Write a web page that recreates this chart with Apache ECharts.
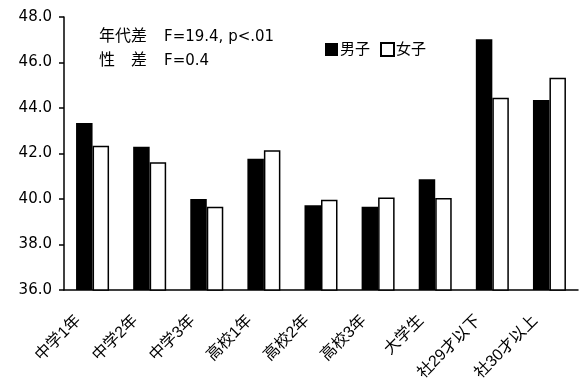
<!DOCTYPE html>
<html><head><meta charset="utf-8">
<script src="https://cdn.jsdelivr.net/npm/echarts@6/dist/echarts.min.js"></script>
<style>html,body{margin:0;padding:0;background:#fff}#c{width:584px;height:379px}</style>
</head><body><div id="c"></div>
<script>
const categories = ['中学1年','中学2年','中学3年','高校1年','高校2年','高校3年','大学生','社29才以下','社30才以上'];
const maleValues = [43.34, 42.30, 40.00, 41.77, 39.72, 39.66, 40.87, 47.02, 44.35];
const femaleValues = [42.34, 41.61, 39.66, 42.14, 39.97, 40.07, 40.04, 44.45, 45.33];
const seriesNames = ['男子','女子'];
const yTicks = {min: 36, max: 48, interval: 2};
const noteLines = [['年代差','F=19.4, p<.01'],['性　差','F=0.4']];

const chart = echarts.init(document.getElementById('c'));
const cjk = '"Liberation Sans","Noto Sans CJK JP",sans-serif';
const lat = '"DejaVu Sans","Noto Sans CJK JP",sans-serif';
chart.setOption({
  animation: false,
  grid: {left: 64, right: 6, top: 17, bottom: 89, containLabel: false, outerBoundsMode: 'none'},
  legend: {
    left: 320, top: 37, itemWidth: 13, itemHeight: 13, itemGap: 10,
    icon: 'rect',
    textStyle: {fontSize: 15, color: '#000', fontFamily: cjk, padding: [0,0,0,-3]},
    data: seriesNames
  },
  xAxis: {
    type: 'category', data: categories,
    axisLine: {lineStyle: {color: '#000', width: 1.5}},
    axisTick: {inside: true, length: 5, lineStyle: {color: '#000', width: 1.5}},
    axisLabel: {rotate: 45, fontSize: 16, color: '#000', fontFamily: cjk, margin: 14, interval: 0,
      padding: [0, 20, 0, 0]}
  },
  yAxis: {
    type: 'value', min: yTicks.min, max: yTicks.max, interval: yTicks.interval,
    splitLine: {show: false},
    axisLine: {show: true, lineStyle: {color: '#000', width: 1.5}},
    axisTick: {show: true, length: 5, lineStyle: {color: '#000', width: 1.5}},
    axisLabel: {fontSize: 15, color: '#000', fontFamily: '"DejaVu Sans",sans-serif', margin: 12,
      formatter: v => v.toFixed(1)}
  },
  series: [
    {name: seriesNames[0], type: 'bar', data: maleValues, barWidth: 16.5, barGap: '0%',
     itemStyle: {color: '#000'}},
    {name: seriesNames[1], type: 'bar', data: femaleValues, barWidth: 16.5, barGap: '0%',
     itemStyle: {color: '#fff', borderColor: '#000', borderWidth: 1.5}}
  ],
  graphic: noteLines.map((l, i) => ({
    type: 'group', left: 99, top: 29 + i * 24,
    children: [
      {type: 'text', x: 0, y: 0, style: {text: l[0], fontSize: 16, fill: '#000', fontFamily: cjk}},
      {type: 'text', x: 65, y: 1, style: {text: l[1], fontSize: 15, fill: '#000', fontFamily: lat}}
    ]
  }))
});
</script></body></html>
